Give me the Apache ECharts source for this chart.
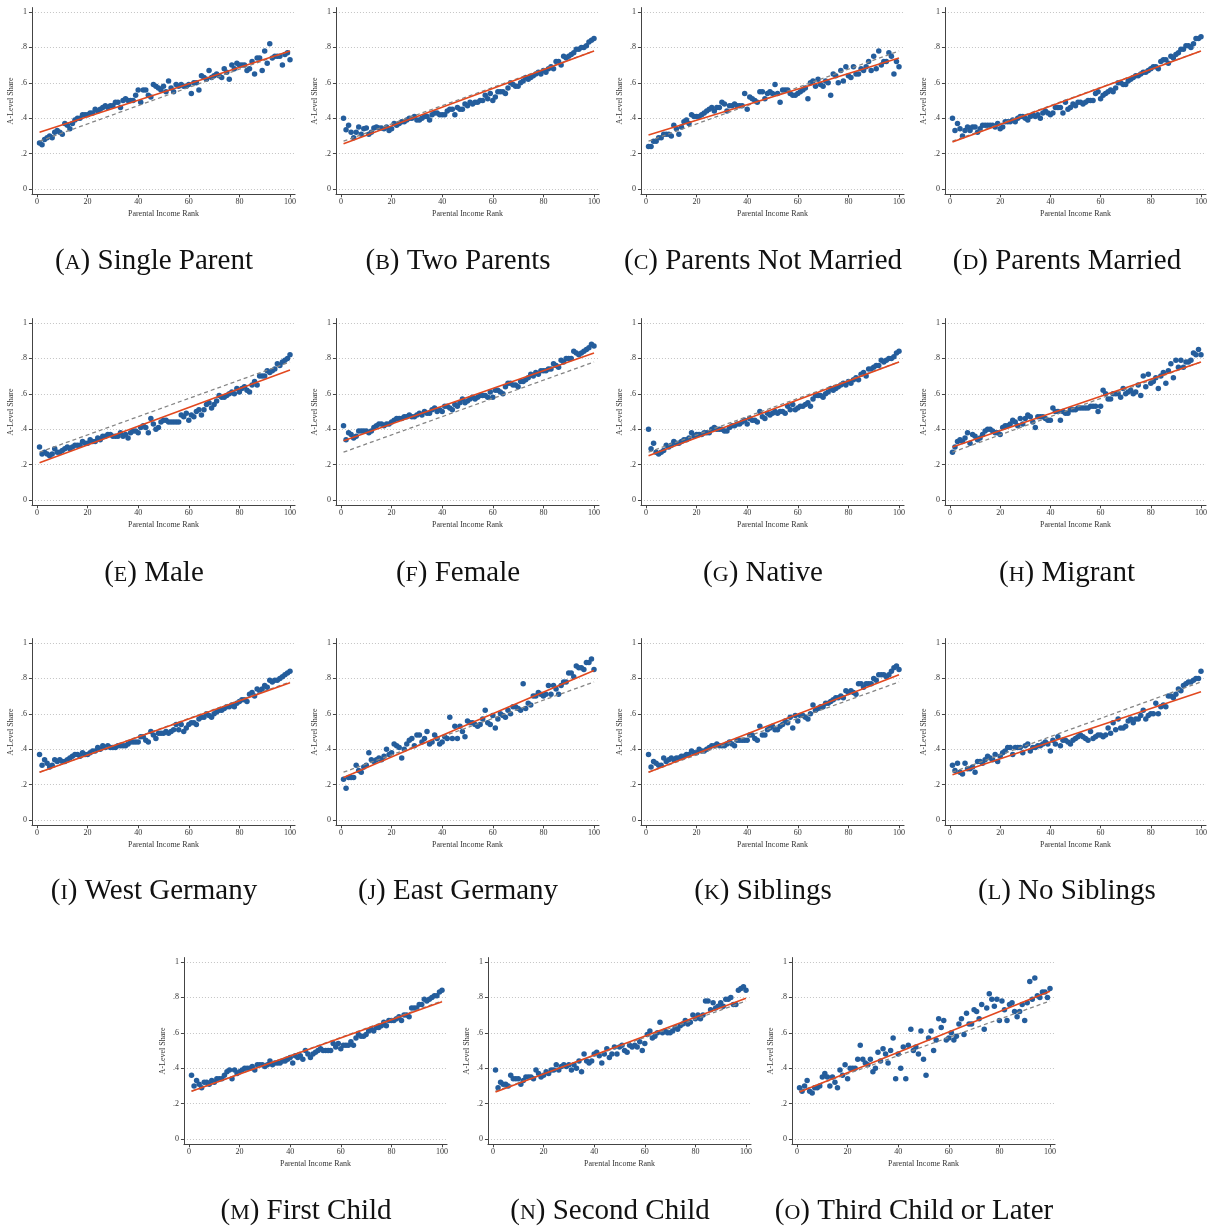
<!DOCTYPE html>
<html><head><meta charset="utf-8">
<script src="https://cdn.jsdelivr.net/npm/echarts@6/dist/echarts.min.js"></script>
<style>html,body{margin:0;padding:0;background:#fff}#c{width:1210px;height:1226px}</style>
</head><body><div id="c"></div>
<script>
// ---- data ----
const ranks = [1,2,3,4,5,6,7,8,9,10,11,12,13,14,15,16,17,18,19,20,21,22,23,24,25,26,27,28,29,30,31,32,33,34,35,36,37,38,39,40,41,42,43,44,45,46,47,48,49,50,51,52,53,54,55,56,57,58,59,60,61,62,63,64,65,66,67,68,69,70,71,72,73,74,75,76,77,78,79,80,81,82,83,84,85,86,87,88,89,90,91,92,93,94,95,96,97,98,99,100];
const xTicks = [0,20,40,60,80,100];
const yTicks = [0,0.2,0.4,0.6,0.8,1];

const singleParent = [
.26,.25,.28,.29,.30,.29,.32,.33,.32,.31,
.37,.36,.34,.37,.39,.40,.40,.42,.42,.42,
.43,.43,.45,.44,.45,.46,.47,.46,.47,.47,
.49,.49,.46,.50,.51,.50,.50,.50,.53,.56,
.49,.56,.56,.53,.52,.59,.58,.57,.56,.58,
.55,.61,.57,.55,.59,.58,.59,.58,.58,.59,
.54,.60,.60,.56,.64,.63,.62,.67,.63,.64,
.65,.64,.63,.68,.66,.62,.70,.68,.71,.70,
.70,.70,.67,.68,.72,.65,.74,.74,.67,.78,
.71,.82,.74,.75,.75,.75,.70,.76,.77,.73];
const twoParents = [
.40,.335,.36,.32,.29,.32,.35,.31,.34,.345,
.31,.32,.345,.35,.345,.345,.34,.35,.33,.34,
.37,.36,.37,.38,.38,.39,.40,.40,.41,.39,
.39,.40,.41,.41,.39,.42,.43,.43,.42,.42,
.42,.44,.45,.45,.42,.46,.45,.45,.48,.47,
.49,.48,.49,.49,.50,.50,.53,.51,.54,.50,
.52,.55,.55,.55,.54,.57,.60,.59,.58,.58,
.60,.61,.63,.62,.63,.64,.65,.66,.65,.67,
.66,.68,.69,.68,.72,.72,.70,.75,.74,.75,
.76,.77,.79,.79,.80,.80,.81,.83,.84,.85];
const notMarried = [
.24,.24,.27,.27,.29,.29,.31,.31,.31,.30,
.36,.34,.31,.35,.38,.39,.37,.42,.41,.41,
.41,.42,.43,.44,.45,.46,.44,.46,.46,.49,
.48,.44,.47,.47,.48,.47,.47,.47,.54,.45,
.52,.51,.50,.49,.55,.55,.51,.54,.55,.54,
.59,.54,.49,.56,.56,.56,.54,.53,.53,.54,
.55,.56,.57,.51,.60,.61,.58,.62,.59,.58,
.61,.60,.53,.65,.64,.60,.67,.61,.69,.64,
.63,.69,.65,.65,.68,.67,.69,.72,.67,.75,
.68,.78,.70,.72,.72,.77,.75,.65,.72,.69];
const married = [
.40,.33,.37,.34,.30,.33,.35,.33,.35,.35,
.32,.34,.36,.36,.36,.36,.36,.35,.37,.34,
.35,.38,.38,.38,.39,.38,.40,.41,.41,.40,
.39,.41,.42,.41,.42,.40,.43,.44,.43,.42,
.43,.46,.46,.46,.43,.49,.45,.46,.48,.47,
.49,.49,.48,.49,.50,.50,.50,.54,.55,.51,
.53,.54,.55,.56,.55,.57,.60,.60,.59,.59,
.61,.62,.63,.64,.64,.65,.66,.66,.67,.68,
.69,.69,.68,.72,.73,.73,.71,.75,.74,.76,
.77,.79,.79,.81,.81,.80,.82,.85,.85,.86];
const male = [
.30,.26,.27,.26,.25,.26,.29,.27,.27,.28,
.29,.30,.29,.30,.31,.31,.31,.33,.32,.32,
.34,.33,.33,.35,.34,.36,.36,.37,.37,.36,
.36,.36,.38,.36,.37,.35,.38,.39,.39,.38,
.41,.42,.41,.38,.46,.43,.40,.41,.44,.45,
.45,.44,.44,.44,.44,.44,.48,.47,.49,.45,
.48,.47,.50,.51,.48,.51,.54,.55,.52,.54,
.56,.59,.58,.58,.59,.60,.61,.60,.63,.61,
.63,.64,.62,.61,.65,.67,.65,.70,.70,.70,
.73,.72,.73,.74,.77,.76,.78,.79,.80,.82];
const female = [
.42,.34,.38,.37,.35,.36,.39,.39,.39,.39,
.38,.39,.41,.42,.43,.43,.42,.43,.43,.44,
.45,.46,.46,.46,.47,.47,.48,.47,.47,.48,
.49,.48,.50,.49,.49,.51,.52,.50,.51,.50,
.53,.53,.52,.51,.54,.53,.55,.57,.55,.56,
.57,.58,.57,.58,.59,.59,.59,.58,.61,.58,
.62,.62,.61,.60,.64,.66,.66,.65,.65,.64,
.67,.67,.68,.69,.71,.70,.72,.71,.73,.73,
.73,.74,.74,.77,.76,.75,.79,.78,.80,.80,
.80,.84,.83,.82,.83,.84,.85,.86,.88,.87];
const native = [
.40,.29,.32,.27,.26,.27,.28,.31,.30,.31,
.33,.32,.32,.33,.34,.34,.35,.38,.36,.37,
.37,.37,.38,.38,.38,.40,.41,.40,.40,.40,
.39,.39,.41,.42,.42,.43,.43,.44,.45,.43,
.46,.45,.45,.44,.50,.47,.46,.49,.48,.49,
.50,.49,.50,.50,.49,.53,.51,.54,.51,.52,
.53,.53,.54,.55,.53,.57,.59,.59,.59,.58,
.60,.61,.63,.62,.63,.64,.65,.66,.65,.67,
.66,.68,.69,.68,.71,.72,.70,.74,.74,.75,
.76,.76,.79,.78,.79,.80,.80,.81,.83,.84];
const migrant = [
.27,.30,.33,.34,.33,.35,.38,.32,.37,.36,
.34,.35,.37,.39,.40,.40,.39,.38,.38,.37,
.41,.42,.42,.43,.45,.44,.42,.46,.43,.46,
.48,.47,.44,.41,.47,.47,.47,.46,.45,.45,
.52,.50,.50,.45,.50,.49,.49,.51,.51,.51,
.52,.52,.52,.52,.52,.53,.53,.53,.50,.53,
.62,.60,.57,.57,.60,.60,.60,.58,.63,.60,
.61,.62,.60,.61,.65,.59,.70,.64,.71,.66,
.67,.69,.63,.70,.72,.66,.73,.77,.69,.79,
.75,.79,.75,.78,.78,.79,.83,.82,.85,.82];
const westGermany = [
.37,.31,.34,.32,.30,.31,.34,.33,.34,.33,
.33,.34,.35,.36,.37,.37,.36,.38,.37,.37,
.38,.39,.39,.41,.40,.42,.41,.42,.41,.41,
.41,.42,.42,.42,.42,.43,.44,.44,.44,.44,
.47,.47,.45,.44,.50,.48,.46,.49,.49,.49,
.50,.49,.50,.51,.54,.51,.54,.50,.52,.54,
.55,.55,.54,.57,.58,.58,.60,.59,.58,.60,
.61,.62,.62,.63,.64,.64,.65,.64,.66,.67,
.68,.68,.67,.71,.72,.70,.74,.73,.74,.76,
.75,.79,.78,.79,.79,.80,.81,.82,.83,.84];
const eastGermany = [
.23,.18,.24,.24,.24,.31,.28,.27,.30,.31,
.38,.34,.33,.34,.35,.34,.36,.40,.37,.38,
.43,.42,.41,.35,.40,.43,.45,.46,.42,.48,
.48,.44,.46,.50,.43,.44,.48,.46,.43,.44,
.47,.46,.58,.46,.53,.46,.53,.50,.47,.56,
.55,.55,.54,.53,.54,.57,.62,.55,.54,.59,
.52,.57,.60,.59,.58,.62,.60,.64,.64,.63,
.62,.77,.63,.66,.65,.70,.70,.72,.71,.70,
.71,.76,.71,.76,.74,.71,.76,.78,.78,.83,
.83,.81,.87,.86,.86,.85,.89,.89,.91,.85];
const siblings = [
.37,.30,.33,.32,.31,.31,.35,.33,.34,.35,
.34,.35,.35,.36,.36,.37,.37,.39,.38,.38,
.40,.39,.39,.40,.41,.42,.42,.43,.42,.42,
.42,.43,.44,.43,.42,.45,.45,.45,.45,.45,
.48,.48,.46,.45,.53,.48,.48,.51,.52,.53,
.51,.51,.53,.54,.56,.55,.58,.52,.59,.56,
.59,.59,.58,.57,.60,.65,.62,.63,.64,.64,
.66,.66,.67,.68,.69,.69,.70,.69,.73,.72,
.73,.72,.71,.77,.77,.75,.77,.77,.77,.80,
.79,.82,.82,.82,.81,.82,.84,.86,.87,.85];
const noSiblings = [
.31,.28,.32,.27,.26,.32,.29,.29,.30,.27,
.33,.33,.32,.34,.36,.35,.34,.37,.33,.36,
.38,.39,.41,.41,.37,.41,.41,.41,.38,.42,
.43,.39,.41,.41,.42,.42,.43,.44,.43,.39,
.45,.43,.47,.42,.45,.45,.44,.43,.45,.46,
.47,.48,.47,.46,.45,.50,.46,.47,.48,.48,
.47,.48,.52,.49,.55,.51,.57,.52,.52,.53,
.56,.57,.55,.57,.57,.59,.62,.57,.59,.60,
.60,.66,.60,.64,.65,.64,.70,.70,.69,.71,
.74,.73,.76,.77,.78,.78,.79,.80,.80,.84];
const firstChild = [
.36,.30,.33,.31,.29,.32,.32,.31,.33,.32,
.34,.34,.34,.36,.38,.39,.34,.39,.37,.38,
.39,.40,.40,.40,.41,.39,.42,.42,.42,.41,
.42,.44,.42,.43,.43,.43,.44,.44,.45,.46,
.43,.47,.46,.47,.45,.50,.48,.46,.48,.49,
.50,.51,.50,.50,.50,.50,.54,.52,.54,.51,
.53,.53,.53,.55,.53,.57,.59,.58,.58,.59,
.61,.62,.61,.63,.63,.64,.66,.64,.67,.67,
.67,.68,.69,.67,.70,.70,.69,.74,.74,.74,
.76,.76,.79,.78,.79,.80,.81,.81,.83,.84];
const secondChild = [
.39,.29,.32,.31,.31,.30,.36,.34,.34,.34,
.31,.33,.35,.35,.35,.34,.39,.37,.35,.36,
.38,.37,.39,.39,.42,.39,.41,.42,.41,.42,
.39,.42,.40,.44,.38,.48,.44,.43,.44,.48,
.49,.47,.43,.48,.51,.46,.48,.52,.48,.52,
.53,.50,.49,.53,.52,.53,.52,.55,.50,.54,
.59,.61,.57,.58,.60,.66,.60,.61,.60,.60,
.61,.63,.62,.64,.65,.67,.65,.66,.70,.68,
.70,.68,.70,.78,.78,.73,.77,.74,.75,.77,
.75,.79,.79,.80,.76,.76,.84,.85,.86,.84];
const thirdChild = [
.29,.27,.30,.33,.27,.26,.29,.29,.30,.35,
.37,.35,.30,.35,.32,.29,.39,.36,.42,.34,
.40,.40,.40,.45,.53,.45,.43,.42,.45,.38,
.40,.49,.44,.51,.48,.43,.50,.57,.34,.48,
.40,.52,.34,.53,.62,.50,.52,.48,.61,.45,
.36,.57,.61,.50,.56,.68,.63,.67,.56,.57,
.60,.56,.58,.65,.68,.59,.71,.65,.65,.73,
.72,.68,.76,.62,.74,.82,.79,.75,.79,.67,
.78,.73,.67,.76,.77,.72,.69,.72,.76,.67,
.77,.89,.79,.91,.81,.80,.83,.83,.80,.85];

const panelValues = [singleParent, twoParents, notMarried, married, male, female, native, migrant,
  westGermany, eastGermany, siblings, noSiblings, firstChild, secondChild, thirdChild];
const panelLetters = ['A','B','C','D','E','F','G','H','I','J','K','L','M','N','O'];
const panelNames = ['Single Parent','Two Parents','Parents Not Married','Parents Married','Male','Female',
  'Native','Migrant','West Germany','East Germany','Siblings','No Siblings','First Child','Second Child','Third Child or Later'];
// group fit line (red): value at rank 1 and at rank 100
const fitStart = [0.32,0.255,0.305,0.265,0.21,0.335,0.25,0.30,0.27,0.24,0.27,0.255,0.27,0.265,0.265];
const fitEnd   = [0.78,0.78,0.74,0.78,0.735,0.83,0.78,0.78,0.775,0.845,0.82,0.725,0.775,0.795,0.835];
// overall fit line (grey dashed)
const baseStart = 0.27, baseEnd = 0.78;

// ---- layout ----
const colX0 = [37, 341, 646, 950];      // pixel of rank 0
const row4X0 = [189, 493, 797];
const rowY1 = [12, 323, 643, 962];       // pixel of share 1
const titleY = [261, 573, 891, 1211];
const pxX = 2.53, pxY = 177;
const X_MIN = -2, X_MAX = 102, Y_MIN = -0.03, Y_MAX = 1.025;
const serif = 'Liberation Serif';
const ptColor = '#245d9c', redColor = '#e2481f', greyColor = '#858585';

const grids = [], xAxes = [], yAxes = [], series = [], graphics = [];
panelValues.forEach((vals, i) => {
  const row = Math.floor(i / 4);
  const x0 = row < 3 ? colX0[i % 4] : row4X0[i - 12];
  const y1 = rowY1[row];
  grids.push({ left: x0 + X_MIN * pxX, top: y1 - (Y_MAX - 1) * pxY,
    width: (X_MAX - X_MIN) * pxX, height: (Y_MAX - Y_MIN) * pxY, containLabel: false });
  xAxes.push({ type: 'value', gridIndex: i, min: X_MIN, max: X_MAX,
    axisLine: { show: true, onZero: false, lineStyle: { color: '#444', width: 1 } },
    axisTick: { show: true, customValues: xTicks, length: 3, lineStyle: { color: '#444' } },
    axisLabel: { customValues: xTicks, fontSize: 8, margin: 4, color: '#333', fontFamily: serif },
    splitLine: { show: false },
    name: 'Parental Income Rank', nameLocation: 'middle', nameGap: 16,
    nameTextStyle: { fontSize: 8, color: '#333', fontFamily: serif } });
  yAxes.push({ type: 'value', gridIndex: i, min: Y_MIN, max: Y_MAX,
    axisLine: { show: true, onZero: false, lineStyle: { color: '#444', width: 1 } },
    axisTick: { show: true, customValues: yTicks, length: 3, lineStyle: { color: '#444' } },
    axisLabel: { customValues: yTicks, fontSize: 8, margin: 5, color: '#333', fontFamily: serif,
      formatter: v => v === 0 ? '0' : (v === 1 ? '1' : '.' + Math.round(v * 10)) },
    splitLine: { show: true, lineStyle: { color: '#c4c4c4', type: [1, 2], width: 1 } },
    name: 'A-Level Share', nameLocation: 'middle', nameGap: 17, nameRotate: 90,
    nameTextStyle: { fontSize: 8, color: '#333', fontFamily: serif } });
  series.push({ type: 'scatter', xAxisIndex: i, yAxisIndex: i, symbolSize: 5.5, z: 2,
    itemStyle: { color: ptColor, opacity: 1 },
    data: ranks.map((r, k) => [r, vals[k]]) });
  series.push({ type: 'line', xAxisIndex: i, yAxisIndex: i, showSymbol: false, symbol: 'none', z: 3,
    lineStyle: { color: greyColor, width: 1.3, type: [4, 3] },
    data: [[ranks[0], baseStart], [ranks[ranks.length - 1], baseEnd]] });
  series.push({ type: 'line', xAxisIndex: i, yAxisIndex: i, showSymbol: false, symbol: 'none', z: 4,
    lineStyle: { color: redColor, width: 1.6 },
    data: [[ranks[0], fitStart[i]], [ranks[ranks.length - 1], fitEnd[i]]] });
  graphics.push({ type: 'text', x: x0 + 117, y: titleY[row],
    style: { text: '({sc|' + panelLetters[i] + '}) ' + panelNames[i],
      font: '29px "' + serif + '"', fill: '#111', align: 'center', verticalAlign: 'middle',
      rich: { sc: { fontSize: 22, fontFamily: serif, fill: '#111', verticalAlign: 'bottom', padding: [0, 0, 1, 0] } } } });
});

const chart = echarts.init(document.getElementById('c'), null, { renderer: 'canvas' });
chart.setOption({ animation: false, backgroundColor: '#fff',
  grid: grids, xAxis: xAxes, yAxis: yAxes, series: series, graphic: graphics });
</script></body></html>
